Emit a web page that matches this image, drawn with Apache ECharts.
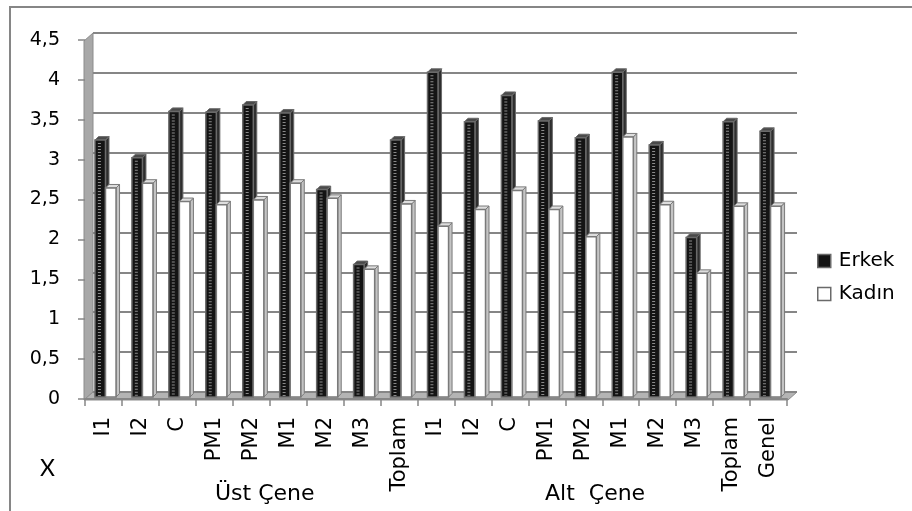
<!DOCTYPE html>
<html>
<head>
<meta charset="utf-8">
<script src="https://cdn.jsdelivr.net/npm/echarts@6/dist/echarts.min.js"></script>
<style>
  html, body { margin: 0; padding: 0; background: #ffffff; }
  #chart { width: 912px; height: 511px; }
</style>
</head>
<body>
<div id="chart"></div>
<script>
// Tooth groups: upper jaw (Üst Çene), lower jaw (Alt Çene), overall (Genel)
const categories = ['I1', 'I2', 'C', 'PM1', 'PM2', 'M1', 'M2', 'M3', 'Toplam',
                    'I1', 'I2', 'C', 'PM1', 'PM2', 'M1', 'M2', 'M3', 'Toplam', 'Genel'];
const erkek = [3.22, 3.00, 3.58, 3.57, 3.66, 3.56, 2.60, 1.66, 3.22,
               4.07, 3.45, 3.78, 3.46, 3.25, 4.07, 3.16, 2.00, 3.45, 3.33];
const kadin = [2.62, 2.68, 2.45, 2.41, 2.47, 2.68, 2.49, 1.60, 2.42,
               2.14, 2.35, 2.59, 2.35, 2.01, 3.26, 2.41, 1.55, 2.39, 2.39];
const yTicks = { min: 0, max: 4.5, interval: 0.5 };
const groupLabels = ['Üst Çene', 'Alt  Çene'];
const axisTitle = 'X';

const GRID_COLOR = '#868686';
const FONT = 'DejaVu Sans';

// Pseudo-3D column: front face, right side face and top cap
function column(offsetFrac, dark) {
  return function (params, api) {
    const i = api.value(0);
    const v = api.value(1);
    const base = api.coord([i, 0]);
    const top = api.coord([i, v]);
    const w = api.size([1, 0])[0];
    const bw = 0.285 * w;
    const x0 = base[0] - w / 2 + offsetFrac * w;
    const dx = 3.5, dy = 3.5;
    const yt = top[1], yb = base[1];
    const face = dark ? '#141414' : '#ffffff';
    const side = dark ? '#2e2e2e' : '#c4c4c4';
    const cap = dark ? '#4a4a4a' : '#dedede';
    const edge = dark ? '#6a6a6a' : '#7a7a7a';
    const children = [
      {
        type: 'polygon',
        shape: { points: [[x0 + bw, yt], [x0 + bw + dx, yt - dy], [x0 + bw + dx, yb - dy], [x0 + bw, yb]] },
        style: { fill: side, stroke: edge, lineWidth: 1 }
      },
      {
        type: 'polygon',
        shape: { points: [[x0, yt], [x0 + dx, yt - dy], [x0 + bw + dx, yt - dy], [x0 + bw, yt]] },
        style: { fill: cap, stroke: edge, lineWidth: 1 }
      },
      {
        type: 'rect',
        shape: { x: x0, y: yt, width: bw, height: yb - yt },
        style: { fill: face, stroke: edge, lineWidth: 1.5 }
      }
    ];
    if (dark) {
      children.push({
        type: 'line',
        shape: { x1: x0 + bw * 0.42, y1: yt + 3, x2: x0 + bw * 0.42, y2: yb - 1 },
        style: { stroke: '#8a8a8a', lineWidth: 3, lineDash: [1, 2] }
      });
    }
    return { type: 'group', children: children };
  };
}

const chart = echarts.init(document.getElementById('chart'), null, { renderer: 'canvas' });

const option = {
  backgroundColor: '#ffffff',
  animation: false,
  textStyle: { fontFamily: FONT, color: '#000' },
  legend: {
    orient: 'vertical',
    left: 817,
    top: 251,
    padding: 0,
    itemGap: 13,
    itemWidth: 13,
    itemHeight: 13,
    textStyle: { fontFamily: FONT, fontSize: 20, color: '#000', padding: [0, 0, 0, 3] },
    data: [
      { name: 'Erkek', icon: 'rect', itemStyle: { color: '#141414', borderColor: '#6a6a6a', borderWidth: 1.5 } },
      { name: 'Kadın', icon: 'rect', itemStyle: { color: '#ffffff', borderColor: '#6a6a6a', borderWidth: 1.5 } }
    ]
  },
  grid: [
    // back wall (gridlines)
    { left: 93, right: 115, top: 33, bottom: 119 },
    // front axes (ticks and labels)
    { left: 85, right: 125, top: 40, bottom: 112 },
    // columns
    { left: 85, right: 125, top: 38, bottom: 114 }
  ],
  xAxis: [
    { gridIndex: 0, type: 'category', data: categories, show: false },
    {
      gridIndex: 1, type: 'category', data: categories,
      axisLine: { show: true, lineStyle: { color: GRID_COLOR, width: 2 } },
      axisTick: { show: true, length: 7, lineStyle: { color: GRID_COLOR, width: 1.5 } },
      axisLabel: { rotate: 90, margin: 18, fontFamily: FONT, fontSize: 21, color: '#000', interval: 0 }
    },
    { gridIndex: 2, type: 'category', data: categories, show: false }
  ],
  yAxis: [
    {
      gridIndex: 0, type: 'value', min: yTicks.min, max: yTicks.max, interval: yTicks.interval,
      axisLine: { show: false }, axisTick: { show: false }, axisLabel: { show: false },
      splitLine: { show: true, lineStyle: { color: GRID_COLOR, width: 2 } }
    },
    {
      gridIndex: 1, type: 'value', min: yTicks.min, max: yTicks.max, interval: yTicks.interval,
      axisLine: { show: false },
      axisTick: { show: true, length: 7, lineStyle: { color: GRID_COLOR, width: 1.5 } },
      axisLabel: {
        margin: 25, fontFamily: FONT, fontSize: 19, color: '#000',
        formatter: v => String(v).replace('.', ',')
      },
      splitLine: { show: false }
    },
    { gridIndex: 2, type: 'value', min: yTicks.min, max: yTicks.max, show: false, splitLine: { show: false } }
  ],
  graphic: [
    // chart frame
    { type: 'rect', z: -10, shape: { x: 10, y: 7, width: 1000, height: 1000 },
      style: { fill: 'none', stroke: GRID_COLOR, lineWidth: 2 } },
    // left side wall
    { type: 'polygon', z: 0, shape: { points: [[84, 41], [93, 33], [93, 392], [84, 400]] },
      style: { fill: '#a8a8a8', stroke: '#8c8c8c', lineWidth: 1 } },
    // floor
    { type: 'polygon', z: 0, shape: { points: [[84, 400], [93, 392], [797, 392], [788, 400]] },
      style: { fill: '#b4b4b4', stroke: '#8c8c8c', lineWidth: 1 } },
    { type: 'text', z: 5, style: { text: axisTitle, x: 47.5, y: 469, align: 'center', verticalAlign: 'middle',
      font: '23px Lato', fill: '#000' } },
    { type: 'text', z: 5, style: { text: groupLabels[0], x: 215, y: 494, align: 'left', verticalAlign: 'middle',
      font: '22px "DejaVu Sans"', fill: '#000' } },
    { type: 'text', z: 5, style: { text: groupLabels[1], x: 545, y: 494, align: 'left', verticalAlign: 'middle',
      font: '22px "DejaVu Sans"', fill: '#000' } }
  ],
  series: [
    {
      name: 'Erkek', type: 'custom', xAxisIndex: 2, yAxisIndex: 2, z: 3,
      itemStyle: { color: '#141414' },
      renderItem: column(0.27, true),
      encode: { x: 0, y: 1 },
      data: erkek.map((v, i) => [i, v])
    },
    {
      name: 'Kadın', type: 'custom', xAxisIndex: 2, yAxisIndex: 2, z: 4,
      itemStyle: { color: '#ffffff' },
      renderItem: column(0.555, false),
      encode: { x: 0, y: 1 },
      data: kadin.map((v, i) => [i, v])
    }
  ]
};

chart.setOption(option);
</script>
</body>
</html>
